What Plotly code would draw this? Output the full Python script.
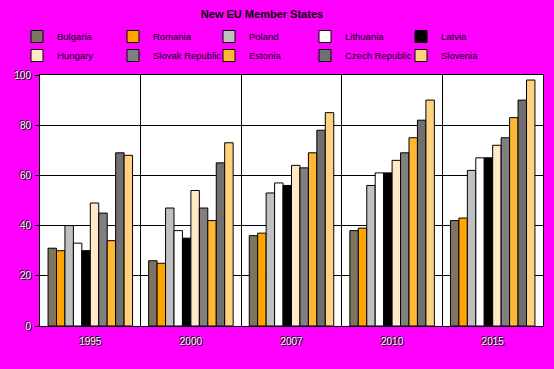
import plotly.graph_objects as go

years = ["1995", "2000", "2007", "2010", "2015"]
countries = ["Bulgaria", "Romania", "Poland", "Lithuania", "Latvia",
             "Hungary", "Slovak Republic", "Estonia", "Czech Republic", "Slovenia"]
colors = ["#807360", "#FFA500", "#C0C0C0", "#FFFFFF", "#000000",
          "#FFE9C6", "#808080", "#FFB833", "#707070", "#FFD27F"]

bulgaria = [31, 26, 36, 38, 42]
romania = [30, 25, 37, 39, 43]
poland = [40, 47, 53, 56, 62]
lithuania = [33, 38, 57, 61, 67]
latvia = [30, 35, 56, 61, 67]
hungary = [49, 54, 64, 66, 72]
slovak = [45, 47, 63, 69, 75]
estonia = [34, 42, 69, 75, 83]
czech = [69, 65, 78, 82, 90]
slovenia = [68, 73, 85, 90, 98]

series = [bulgaria, romania, poland, lithuania, latvia,
          hungary, slovak, estonia, czech, slovenia]

font_family = "Liberation Sans, Arial, sans-serif"

fig = go.Figure()
for name, vals, col in zip(countries, series, colors):
    fig.add_trace(go.Bar(
        name=name, x=years, y=vals,
        marker=dict(color=col, line=dict(color="black", width=1)),
    ))

fig.update_layout(
    width=554, height=369,
    barmode="group", bargap=0.16, bargroupgap=0,
    paper_bgcolor="#FF00FF", plot_bgcolor="#FFFFFF",
    margin=dict(l=40, r=11, t=75, b=43, autoexpand=False),
    font=dict(family=font_family, size=10, color="black"),
    title=dict(text="<b>New EU Member States</b>", x=262/554, xanchor="center",
               y=1 - 14/369, yanchor="middle",
               font=dict(size=11, color="black", family=font_family)),
    legend=dict(orientation="h", x=(17 - 40) / 503, xanchor="left",
                y=1 + (75 - 22) / 251, yanchor="top",
                entrywidth=51, entrywidthmode="pixels",
                bgcolor="rgba(0,0,0,0)", font=dict(size=9.5, color="black"),
                tracegroupgap=0, itemwidth=30),
    showlegend=True,
)
fig.update_xaxes(
    type="category", tickson="boundaries", showgrid=True, gridcolor="black",
    gridwidth=1, showline=True, linecolor="black", linewidth=1, mirror=True,
    ticks="", ticklabelstandoff=6,
    tickfont=dict(size=10, color="white",
                  shadow="1px 1px 0 #000, -1px -1px 0 #000"),
)
fig.update_yaxes(
    range=[0, 100], dtick=20, showgrid=True, gridcolor="black", gridwidth=1,
    showline=True, linecolor="black", linewidth=1, mirror=True,
    ticks="outside", ticklen=4, tickcolor="black", zeroline=False,
    ticklabelstandoff=2,
    tickfont=dict(size=10, color="white",
                  shadow="1px 1px 0 #000, -1px -1px 0 #000"),
)

fig.write_html("out.html",
               config={"displayModeBar": False},
               post_script="document.body.style.margin='0px';"
                           "document.body.style.overflow='hidden';")
